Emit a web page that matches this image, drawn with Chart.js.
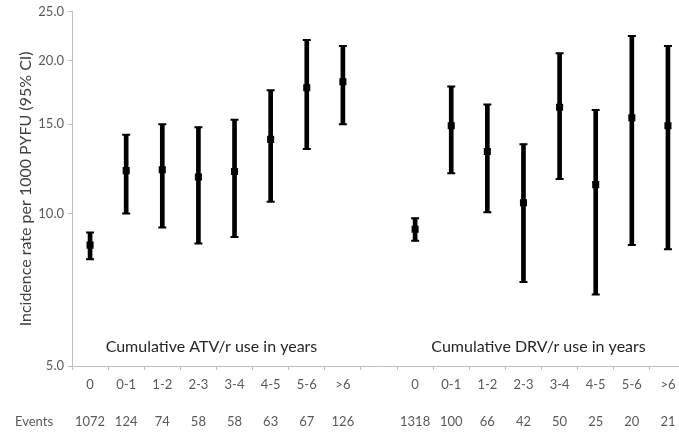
<!DOCTYPE html>
<html>
<head>
<meta charset="utf-8">
<script src="https://cdn.jsdelivr.net/npm/chart.js@4/dist/chart.umd.min.js"></script>
<style>
  html, body { margin: 0; padding: 0; background: #fff; overflow: hidden; }
  #wrap { width: 692px; height: 433px; }
</style>
</head>
<body>
<div id="wrap"><canvas id="chart"></canvas></div>
<script>
// periods of cumulative use, same for both drugs
const periods = ["0", "0-1", "1-2", "2-3", "3-4", "4-5", "5-6", ">6"];

const atvEvents = [1072, 124, 74, 58, 58, 63, 67, 126];
const drvEvents = [1318, 100, 66, 42, 50, 25, 20, 21];

// incidence rate per 1000 PYFU with 95% CI
const atvRate = [8.66, 12.15, 12.2, 11.8, 12.1, 14.0, 17.7, 18.2];
const atvLow  = [8.12, 10.0, 9.38, 8.72, 8.99, 10.55, 13.4, 15.0];
const atvHigh = [9.17, 14.3, 15.0, 14.8, 15.3, 17.5, 22.0, 21.4];

const drvRate = [9.31, 14.9, 13.25, 10.5, 16.2, 11.4, 15.45, 14.9];
const drvLow  = [8.83, 12.0, 10.05, 7.32, 11.7, 6.92, 8.66, 8.50];
const drvHigh = [9.79, 17.8, 16.4, 13.7, 20.7, 16.0, 22.4, 21.4];

const yTicks = [5, 10, 15, 20, 25];

const atvCaption = "Cumulative ATV/r use in years";
const drvCaption = "Cumulative DRV/r use in years";

// one empty category between the two groups
const labels = [...periods, "", ...periods];
const events = [...atvEvents, "", ...drvEvents];
const join = (a, b) => [...a, null, ...b];

const rate = join(atvRate, drvRate);
const low = join(atvLow, drvLow);
const high = join(atvHigh, drvHigh);
const ranges = low.map((l, i) => l === null ? null : [l, high[i]]);

const tickFont = { family: "Lato", size: 13 };
const gray = "#595959";
const axisGray = "#bfbfbf";

const captions = {
    id: "captions",
    afterDraw(chart) {
        const ctx = chart.ctx;
        const x = chart.scales.x;
        const area = chart.chartArea;
        ctx.save();
        ctx.fillStyle = "#262626";
        ctx.font = "16px Lato";
        ctx.textAlign = "center";
        ctx.textBaseline = "middle";
        const atvMid = (x.getPixelForValue(0) + x.getPixelForValue(7)) / 2 - 5;
        const drvMid = (x.getPixelForValue(9) + x.getPixelForValue(16)) / 2 - 3;
        ctx.fillText(atvCaption, atvMid, area.bottom - 19);
        ctx.fillText(drvCaption, drvMid, area.bottom - 19);

        ctx.fillStyle = gray;
        ctx.font = "13px Lato";
        ctx.textAlign = "left";
        ctx.fillText("Events", 15, area.bottom + 56);
        ctx.restore();
    }
};

const capStyle = {
    type: "line",
    showLine: false,
    pointStyle: "line",
    pointRadius: 4,
    pointBorderWidth: 2,
    borderColor: "#000",
    backgroundColor: "#000"
};

new Chart(document.getElementById("chart"), {
    type: "bar",
    data: {
        labels: labels,
        datasets: [
            {
                label: "CI",
                data: ranges,
                backgroundColor: "#000",
                barThickness: 4,
                borderWidth: 0,
                order: 3
            },
            Object.assign({ label: "high", data: high, order: 2 }, capStyle),
            Object.assign({ label: "low", data: low, order: 2 }, capStyle),
            {
                type: "line",
                label: "rate",
                data: rate,
                showLine: false,
                pointStyle: "rect",
                pointRadius: 5,
                pointBorderWidth: 0,
                backgroundColor: "#000",
                borderColor: "#000",
                order: 1
            }
        ]
    },
    options: {
        responsive: true,
        maintainAspectRatio: false,
        animation: false,
        layout: { padding: { top: 11, right: 1, bottom: 0, left: 0 } },
        plugins: {
            legend: { display: false },
            tooltip: { enabled: false }
        },
        scales: {
            x: {
                offset: true,
                border: { color: axisGray },
                grid: {
                    offset: true,
                    drawOnChartArea: false,
                    drawTicks: true,
                    tickLength: 4,
                    color: axisGray
                },
                ticks: {
                    color: gray,
                    font: { family: "Lato", size: 13, lineHeight: "18.5px" },
                    padding: 6,
                    maxRotation: 0,
                    autoSkip: false,
                    callback: (v, i) => [labels[i], "", String(events[i])]
                },
                afterFit: s => { s.height = 67; }
            },
            y: {
                type: "logarithmic",
                min: 5,
                max: 25,
                border: { color: axisGray },
                grid: {
                    drawOnChartArea: false,
                    drawTicks: true,
                    tickLength: 4,
                    color: axisGray
                },
                afterBuildTicks: s => { s.ticks = yTicks.map(v => ({ value: v })); },
                ticks: {
                    color: gray,
                    font: tickFont,
                    padding: 4,
                    callback: v => Number(v).toFixed(1)
                },
                title: {
                    display: true,
                    text: "Incidence rate per 1000 PYFU (95% CI)",
                    color: "#404040",
                    font: { family: "Lato", size: 16 },
                    padding: { top: 16, bottom: 0 }
                },
                afterFit: s => { s.width = 72; }
            }
        }
    },
    plugins: [captions]
});
</script>
</body>
</html>
